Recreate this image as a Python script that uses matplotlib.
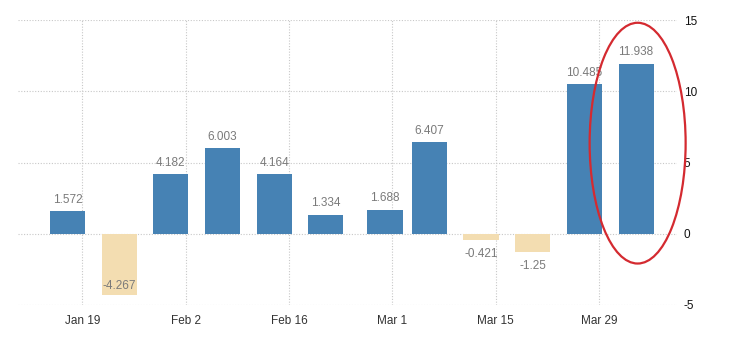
import matplotlib
matplotlib.use("Agg")
import matplotlib.pyplot as plt
import matplotlib.dates as mdates
from matplotlib.patches import Ellipse
import pandas as pd

# weekly changes
dates = ["2020-01-17", "2020-01-24", "2020-01-31", "2020-02-07", "2020-02-14",
         "2020-02-21", "2020-02-29", "2020-03-06", "2020-03-13", "2020-03-20",
         "2020-03-27", "2020-04-03"]
values = [1.572, -4.267, 4.182, 6.003, 4.164, 1.334, 1.688, 6.407,
          -0.421, -1.25, 10.485, 11.938]
labels = ["1.572", "-4.267", "4.182", "6.003", "4.164", "1.334", "1.688",
          "6.407", "-0.421", "-1.25", "10.485", "11.938"]

tick_dates = ["2020-01-19", "2020-02-02", "2020-02-16", "2020-03-01",
              "2020-03-15", "2020-03-29"]
tick_labels = ["Jan 19", "Feb 2", "Feb 16", "Mar 1", "Mar 15", "Mar 29"]
y_ticks = [-5, 0, 5, 10, 15]

plt.rcParams['font.family'] = ['Liberation Sans', 'DejaVu Sans']
plt.rcParams['axes.unicode_minus'] = False

x = mdates.date2num(pd.to_datetime(dates))
xt = mdates.date2num(pd.to_datetime(tick_dates))

fig = plt.figure(figsize=(7.3, 3.4), dpi=100)
ax = fig.add_axes([0.025, 0.103, 0.902, 0.838])

colors = ["#4682b4" if v >= 0 else "#f3ddb1" for v in values]
ax.bar(x, values, width=4.75, color=colors, zorder=2)

ymin, ymax = -5, 15
for xi, v, lab in zip(x, values, labels):
    if v >= 0:
        ax.annotate(lab, (xi, v), xytext=(0, 4), textcoords="offset points",
                    ha="center", va="bottom", fontsize=8.5, color="#7a7a7a")
    elif v - 1.2 < ymin:
        # no room below the bar, keep the label inside it
        ax.annotate(lab, (xi, v), xytext=(0, 2), textcoords="offset points",
                    ha="center", va="bottom", fontsize=8.5, color="#7a7a7a")
    else:
        ax.annotate(lab, (xi, v), xytext=(0, -6), textcoords="offset points",
                    ha="center", va="top", fontsize=8.5, color="#7a7a7a")

ax.set_ylim(ymin, ymax)
ax.set_xlim(mdates.date2num(pd.Timestamp("2020-01-10 08:00")),
            mdates.date2num(pd.Timestamp("2020-04-08 12:00")))
ax.set_xticks(xt)
ax.set_xticklabels(tick_labels)
ax.set_yticks(y_ticks)
ax.yaxis.tick_right()
ax.tick_params(axis="both", length=0, labelsize=8.5)
ax.tick_params(axis="x", pad=7, colors="#333333")
ax.tick_params(axis="y", pad=5, colors="#111111")

ax.grid(True, linestyle=(0, (1, 1.5)), color="#c8c8c8", linewidth=0.8, zorder=0)
for s in ax.spines.values():
    s.set_visible(False)

# highlight the latest two weeks
ell = Ellipse((mdates.date2num(pd.Timestamp("2020-04-03 05:00")), 6.36),
              width=13.0, height=16.9, fill=False, edgecolor="#d42a30",
              linewidth=1.6, clip_on=False, zorder=3)
ax.add_patch(ell)

fig.savefig("out.png", dpi=100)
